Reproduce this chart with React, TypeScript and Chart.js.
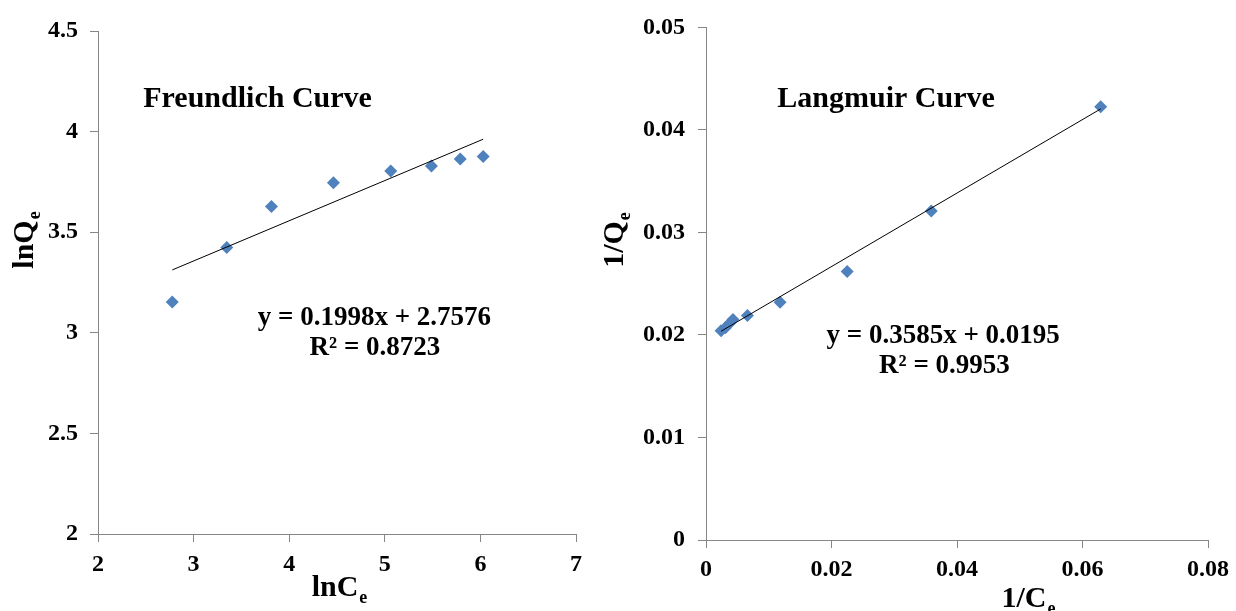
import React, { useEffect, useRef } from "react";
import { Chart, registerables } from "chart.js";

Chart.register(...registerables);

// ---- Data ----
const freundlichX = [2.777, 3.347, 3.814, 4.463, 5.062, 5.488, 5.789, 6.029]; // lnCe
const freundlichY = [3.153, 3.424, 3.628, 3.746, 3.804, 3.829, 3.864, 3.876]; // lnQe
const freundlichFit = [0.1998, 2.7576]; // slope, intercept

const langmuirX = [0.0024, 0.0031, 0.0037, 0.0043, 0.0066, 0.0118, 0.0225, 0.0359, 0.0629]; // 1/Ce
const langmuirY = [0.0204, 0.0207, 0.0211, 0.0215, 0.0219, 0.0232, 0.0262, 0.0321, 0.04225]; // 1/Qe
const langmuirFit = [0.3585, 0.0195];

const freundlichXTicks = [2, 3, 4, 5, 6, 7];
const freundlichYTicks = [2, 2.5, 3, 3.5, 4, 4.5];
const langmuirXTicks = [0, 0.02, 0.04, 0.06, 0.08];
const langmuirYTicks = [0, 0.01, 0.02, 0.03, 0.04, 0.05];

const freundlichTexts = ["Freundlich Curve", "y = 0.1998x + 2.7576", "R² = 0.8723"];
const langmuirTexts = ["Langmuir Curve", "y = 0.3585x + 0.0195", "R² = 0.9953"];

const FONT = "'Liberation Serif', 'Times New Roman', serif";
const MARKER = "#4F81BD";
const AXIS = "#868686";

function drawSubText(
  ctx: CanvasRenderingContext2D,
  main: string,
  sub: string,
  x: number,
  y: number,
  rotated: boolean
) {
  const size = 30;
  const subSize = 18;
  ctx.save();
  ctx.translate(x, y);
  if (rotated) ctx.rotate(-Math.PI / 2);
  ctx.font = `bold ${size}px ${FONT}`;
  const w1 = ctx.measureText(main).width;
  ctx.font = `bold ${subSize}px ${FONT}`;
  const w2 = ctx.measureText(sub).width;
  const start = -(w1 + w2 + 1) / 2;
  ctx.textAlign = "left";
  ctx.textBaseline = "alphabetic";
  ctx.fillStyle = "#000";
  ctx.font = `bold ${size}px ${FONT}`;
  ctx.fillText(main, start, 0);
  ctx.font = `bold ${subSize}px ${FONT}`;
  ctx.fillText(sub, start + w1 + 1, 7);
  ctx.restore();
}

type TextSpec = { text: string; x: number; y: number; size: number };

function makeConfig(opts: {
  xs: number[];
  ys: number[];
  fit: number[];
  xTicks: number[];
  yTicks: number[];
  texts: TextSpec[];
  padding: { left: number; right: number; top: number; bottom: number };
  yWidth: number;
  xHeight: number;
  yTitle: { main: string; sub: string; x: number; y: number };
  xTitle: { main: string; sub: string; x: number; y: number };
  yPad: number;
  xPad: number;
}) {
  const pts = opts.xs.map((x, i) => ({ x, y: opts.ys[i] }));
  const minX = Math.min(...opts.xs);
  const maxX = Math.max(...opts.xs);
  const trend = [
    { x: minX, y: opts.fit[0] * minX + opts.fit[1] },
    { x: maxX, y: opts.fit[0] * maxX + opts.fit[1] },
  ];
  const textPlugin = {
    id: "texts",
    afterDraw(chart: any) {
      const ctx = chart.ctx as CanvasRenderingContext2D;
      const xs = chart.scales.x;
      const ys = chart.scales.y;
      ctx.save();
      ctx.fillStyle = "#000";
      ctx.textAlign = "center";
      ctx.textBaseline = "middle";
      for (const t of opts.texts) {
        ctx.font = `bold ${t.size}px ${FONT}`;
        ctx.fillText(t.text, xs.getPixelForValue(t.x), ys.getPixelForValue(t.y));
      }
      ctx.restore();
      drawSubText(ctx, opts.yTitle.main, opts.yTitle.sub, opts.yTitle.x, opts.yTitle.y, true);
      drawSubText(ctx, opts.xTitle.main, opts.xTitle.sub, opts.xTitle.x, opts.xTitle.y, false);
    },
  };
  const tickFont = { family: FONT, size: 24, weight: "bold" as const };
  return {
    type: "scatter" as const,
    data: {
      datasets: [
        {
          type: "line" as const,
          data: trend,
          borderColor: "#000",
          borderWidth: 1,
          pointRadius: 0,
          fill: false,
        },
        {
          type: "scatter" as const,
          data: pts,
          pointStyle: "rectRot" as const,
          pointRadius: 6.5,
          backgroundColor: MARKER,
          borderColor: MARKER,
          borderWidth: 0,
        },
      ],
    },
    options: {
      animation: false as const,
      responsive: false,
      layout: { padding: opts.padding },
      plugins: { legend: { display: false }, tooltip: { enabled: false } },
      scales: {
        x: {
          type: "linear" as const,
          min: opts.xTicks[0],
          max: opts.xTicks[opts.xTicks.length - 1],
          afterBuildTicks: (s: any) => {
            s.ticks = opts.xTicks.map((v) => ({ value: v }));
          },
          afterFit: (s: any) => {
            s.height = opts.xHeight;
          },
          grid: { drawOnChartArea: false, drawTicks: true, tickLength: 8, color: AXIS },
          border: { display: true, color: AXIS, width: 1 },
          ticks: {
            color: "#000",
            font: tickFont,
            padding: opts.xPad,
            maxRotation: 0,
            autoSkip: false,
            callback: (v: any) => String(v),
          },
        },
        y: {
          type: "linear" as const,
          min: opts.yTicks[0],
          max: opts.yTicks[opts.yTicks.length - 1],
          afterBuildTicks: (s: any) => {
            s.ticks = opts.yTicks.map((v) => ({ value: v }));
          },
          afterFit: (s: any) => {
            s.width = opts.yWidth;
          },
          grid: { drawOnChartArea: false, drawTicks: true, tickLength: 8, color: AXIS },
          border: { display: true, color: AXIS, width: 1 },
          ticks: {
            color: "#000",
            font: tickFont,
            padding: opts.yPad,
            autoSkip: false,
            callback: (v: any) => String(v),
          },
        },
      },
    },
    plugins: [textPlugin],
  };
}

function ChartCanvas({ config, width, height, left }: any) {
  const ref = useRef<HTMLCanvasElement | null>(null);
  useEffect(() => {
    if (!ref.current) return;
    const chart = new Chart(ref.current, config);
    return () => chart.destroy();
  }, []);
  return (
    <canvas
      ref={ref}
      width={width}
      height={height}
      style={{ position: "absolute", left, top: 0, width, height }}
    />
  );
}

export default function App() {
  const leftCfg = makeConfig({
    xs: freundlichX,
    ys: freundlichY,
    fit: freundlichFit,
    xTicks: freundlichXTicks,
    yTicks: freundlichYTicks,
    texts: [
      { text: freundlichTexts[0], x: 3.669, y: 4.162, size: 30 },
      { text: freundlichTexts[1], x: 4.892, y: 3.075, size: 27 },
      { text: freundlichTexts[2], x: 4.897, y: 2.924, size: 27 },
    ],
    padding: { left: 0, right: 24, top: 31, bottom: 0 },
    yWidth: 98,
    xHeight: 611 - 534,
    yTitle: { main: "lnQ", sub: "e", x: 33, y: 240 },
    xTitle: { main: "lnC", sub: "e", x: 339.5, y: 596 },
    yPad: 12,
    xPad: 8,
  });
  const rightCfg = makeConfig({
    xs: langmuirX,
    ys: langmuirY,
    fit: langmuirFit,
    xTicks: langmuirXTicks,
    yTicks: langmuirYTicks,
    texts: [
      { text: langmuirTexts[0], x: 0.0287, y: 0.043, size: 30 },
      { text: langmuirTexts[1], x: 0.0378, y: 0.01988, size: 27 },
      { text: langmuirTexts[2], x: 0.038, y: 0.01693, size: 27 },
    ],
    padding: { left: 0, right: 20, top: 22, bottom: 0 },
    yWidth: 106,
    xHeight: 611 - 540,
    yTitle: { main: "1/Q", sub: "e", x: 23, y: 240 },
    xTitle: { main: "1/C", sub: "e", x: 428.5, y: 607 },
    yPad: 13,
    xPad: 7,
  });
  return (
    <div style={{ position: "fixed", left: 0, top: 0, width: 1236, height: 611, background: "#fff" }}>
      <ChartCanvas config={leftCfg} width={600} height={611} left={0} />
      <ChartCanvas config={rightCfg} width={636} height={611} left={600} />
    </div>
  );
}
